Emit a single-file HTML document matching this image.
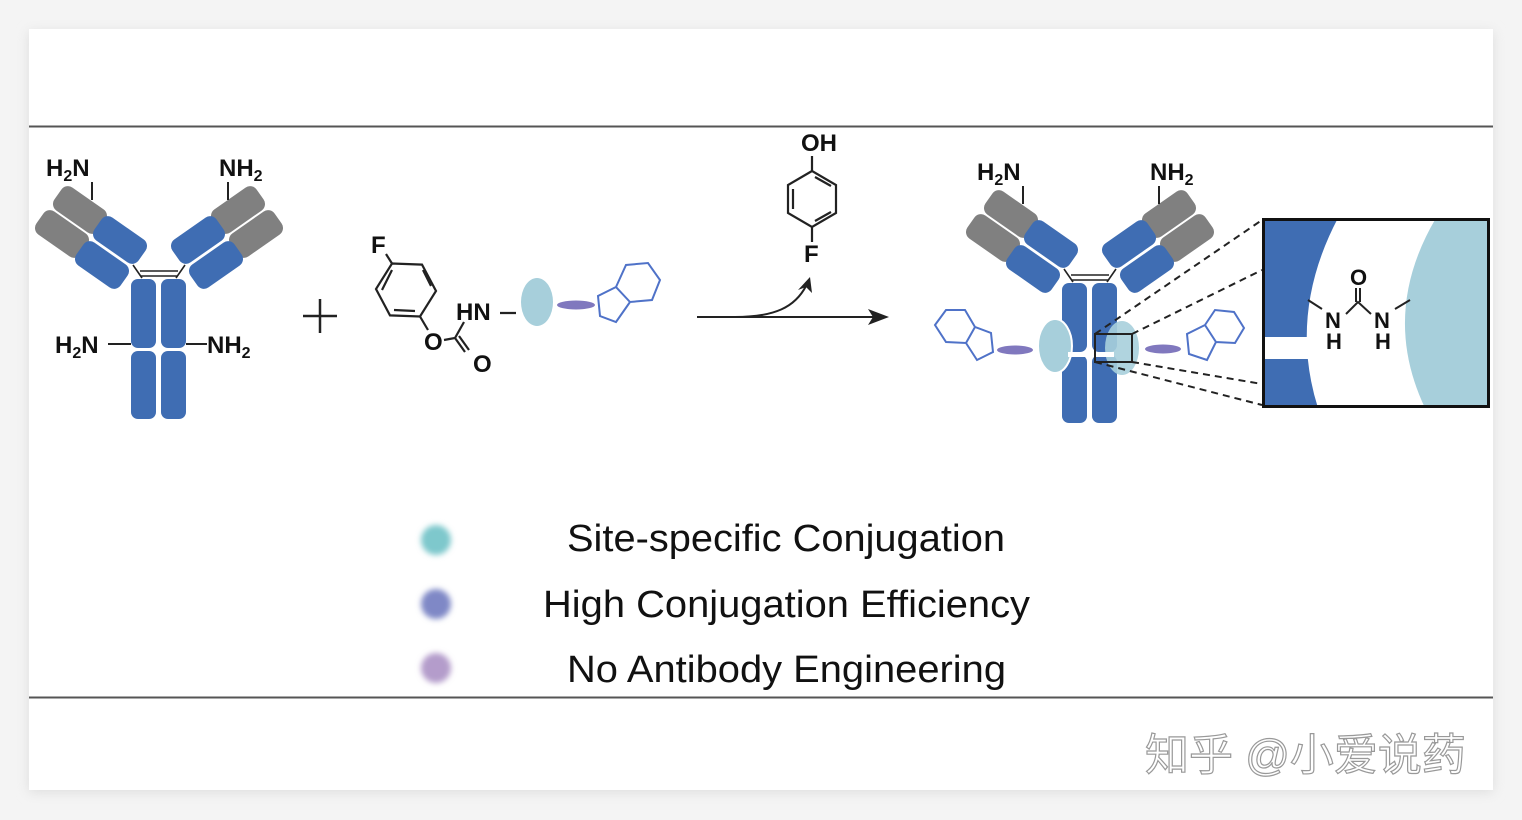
<!DOCTYPE html>
<html><head><meta charset="utf-8"><style>
html,body{margin:0;padding:0;background:#f4f4f4;}
body{width:1522px;height:820px;overflow:hidden;position:relative;font-family:"Liberation Sans",Arial,sans-serif;}
svg{position:absolute;left:0;top:0;}
</style></head><body>
<svg width="1522" height="820" viewBox="0 0 1522 820">
<defs>
<filter id="bl" x="-50%" y="-50%" width="200%" height="200%"><feGaussianBlur stdDeviation="3"/></filter>
<filter id="sh" x="-5%" y="-5%" width="110%" height="110%"><feGaussianBlur stdDeviation="6"/></filter>
<g id="ab">
  <rect x="131" y="279" width="25" height="69" rx="7" fill="#3f6db3"/>
  <rect x="161" y="279" width="25" height="69" rx="7" fill="#3f6db3"/>
  <rect x="131" y="351" width="25" height="68" rx="7" fill="#3f6db3"/>
  <rect x="161" y="351" width="25" height="68" rx="7" fill="#3f6db3"/>
  <path d="M140 271 L178 271 M140 276 L178 276 M133 265 L142 278 M185 265 L176 278" stroke="#222" stroke-width="1.6" fill="none"/>
  <g fill="#808080">
    <rect x="-27" y="-14" width="54" height="28" rx="8" transform="translate(80,210) rotate(35)"/>
    <rect x="-27" y="-14" width="54" height="28" rx="8" transform="translate(62,234) rotate(35)"/>
  </g>
  <g fill="#3f6db3">
    <rect x="-27" y="-14" width="54" height="28" rx="8" transform="translate(120,240) rotate(35)"/>
    <rect x="-27" y="-14" width="54" height="28" rx="8" transform="translate(102,265) rotate(35)"/>
  </g>
  <g fill="#808080">
    <rect x="-27" y="-14" width="54" height="28" rx="8" transform="translate(238,210) rotate(-35)"/>
    <rect x="-27" y="-14" width="54" height="28" rx="8" transform="translate(256,234) rotate(-35)"/>
  </g>
  <g fill="#3f6db3">
    <rect x="-27" y="-14" width="54" height="28" rx="8" transform="translate(198,240) rotate(-35)"/>
    <rect x="-27" y="-14" width="54" height="28" rx="8" transform="translate(216,265) rotate(-35)"/>
  </g>
  <path d="M92 182 L92 200 M228 182 L228 200" stroke="#222" stroke-width="2"/>
  <g font-weight="bold" font-size="24" fill="#111">
    <text x="46" y="176">H<tspan font-size="16" dy="5">2</tspan><tspan dy="-5">N</tspan></text>
    <text x="219" y="176">NH<tspan font-size="16" dy="5">2</tspan></text>
  </g>
</g>
</defs>
<rect x="29" y="32" width="1464" height="760" fill="#ddd" filter="url(#sh)"/>
<rect x="29" y="29" width="1464" height="761" fill="#fff"/>
<line x1="29" y1="126.5" x2="1493" y2="126.5" stroke="#555" stroke-width="2"/>
<line x1="29" y1="697.5" x2="1493" y2="697.5" stroke="#555" stroke-width="2"/>

<use href="#ab"/>
<line x1="108" y1="344" x2="131" y2="344" stroke="#222" stroke-width="2"/>
<line x1="186" y1="344" x2="207" y2="344" stroke="#222" stroke-width="2"/>
<g font-weight="bold" font-size="24" fill="#111">
  <text x="55" y="353">H<tspan font-size="16" dy="5">2</tspan><tspan dy="-5">N</tspan></text>
  <text x="207" y="353">NH<tspan font-size="16" dy="5">2</tspan></text>
</g>
<path d="M303 316 L337 316 M320 299 L320 333" stroke="#222" stroke-width="2.5"/>

<!-- reagent -->
<g stroke="#222" stroke-width="2.2" fill="none">
  <path d="M392 263.5 L422 264.6 L436 291 L420 316.5 L390 315.4 L376 289 Z"/>
  <path d="M423 270 L431 286 M415 311 L394 310 M382 290 L392 270"/>
  <path d="M386 254 L392 263.5"/>
  <path d="M420 316.5 L428 330 M444 340 L455 338 L464 322 M455 338 L465 352 M459 336 L469 350 M500 313 L516 313"/>
</g>
<g font-weight="bold" font-size="24" fill="#111">
  <text x="371" y="253">F</text>
  <text x="424" y="350">O</text>
  <text x="473" y="372">O</text>
  <text x="456" y="320">HN</text>
</g>
<ellipse cx="537" cy="302" rx="16" ry="24" fill="#a7cfdb"/>
<ellipse cx="576" cy="305" rx="19" ry="4.5" fill="#8078be"/>
<path d="M616 287 L626 265 L648 263 L660 280 L652 300 L630 302 Z M616 287 L598 296 L600 316 L616 322 L630 302" fill="none" stroke="#4f72c8" stroke-width="2"/>

<!-- arrow -->
<path d="M697 317 L875 317" stroke="#222" stroke-width="2"/>
<path d="M889 317 L868 309 L873 317 L868 325 Z" fill="#222"/>
<path d="M735 317 C775 317 795 307 806 286" stroke="#222" stroke-width="2" fill="none"/>
<path d="M810 277 L798 290 L806 287 L812 293 Z" fill="#222"/>
<g stroke="#222" stroke-width="2.2" fill="none">
  <path d="M812 156 L812 171 L836 185 L836 213 L812 227 L788 213 L788 185 L812 171 M812 227 L812 242"/>
  <path d="M815 177 L831 186 M831 212 L815 221 M793 189 L793 209"/>
</g>
<g font-weight="bold" font-size="24" fill="#111">
  <text x="801" y="151">OH</text>
  <text x="804" y="262">F</text>
</g>

<!-- right antibody -->
<use href="#ab" transform="translate(931,4)"/>
<ellipse cx="1055" cy="346" rx="17" ry="27" fill="#a7cfdb" stroke="#fff" stroke-width="2"/>
<ellipse cx="1122" cy="348" rx="17" ry="27" fill="#a7cfdb" opacity="0.9"/>
<rect x="1068" y="352" width="46" height="5" fill="#fff"/>
<ellipse cx="1015" cy="350" rx="18" ry="4.5" fill="#8078be"/>
<ellipse cx="1163" cy="349" rx="18" ry="4.5" fill="#8078be"/>
<path d="M935 325 L946 310 L965 310 L975 327 L966 343 L946 342 Z M966 343 L975 327 L991 333 L993 352 L977 360 Z" fill="none" stroke="#4f72c8" stroke-width="2"/>
<path d="M1205 325 L1215 310 L1234 312 L1244 328 L1235 343 L1216 342 Z M1216 342 L1205 325 L1187 334 L1189 354 L1207 360 Z" fill="none" stroke="#4f72c8" stroke-width="2"/>
<rect x="1095" y="334" width="37" height="28" fill="none" stroke="#222" stroke-width="2"/>
<g stroke="#222" stroke-width="2" stroke-dasharray="7,5">
  <path d="M1095 334 L1262 220 M1132 334 L1262 270 M1132 362 L1262 384 M1095 362 L1262 405"/>
</g>
<svg x="1262" y="218" width="228" height="190" viewBox="0 0 228 190">
  <rect width="228" height="190" fill="#fff"/>
  <path d="M0 0 L76 0 Q26 95 56 190 L0 190 Z" fill="#3f6db3"/>
  <rect x="0" y="119" width="60" height="22" fill="#fff"/>
  <path d="M228 0 L174 0 Q118 95 163 190 L228 190 Z" fill="#a7cfdb"/>
  <rect x="1.5" y="1.5" width="225" height="187" fill="none" stroke="#111" stroke-width="3"/>
  <g stroke="#222" stroke-width="2" fill="none">
    <path d="M46 82 L60 91 M84 96 L96 84 L109 96 M94 84 L94 70 M98 84 L98 70 M133 91 L148 82"/>
  </g>
  <g font-weight="bold" font-size="22" fill="#111">
    <text x="63" y="110">N</text><text x="64" y="131">H</text>
    <text x="88" y="67">O</text>
    <text x="112" y="110">N</text><text x="113" y="131">H</text>
  </g>
</svg>

<circle cx="436" cy="540" r="15" fill="#7ec8cc" filter="url(#bl)"/>
<circle cx="436" cy="604" r="15" fill="#7f88c6" filter="url(#bl)"/>
<circle cx="436" cy="668" r="15" fill="#b49ccb" filter="url(#bl)"/>
<g font-size="38" fill="#111">
  <text x="567" y="551" textLength="438" lengthAdjust="spacingAndGlyphs">Site-specific Conjugation</text>
  <text x="543" y="617" textLength="487" lengthAdjust="spacingAndGlyphs">High Conjugation Efficiency</text>
  <text x="567" y="682" textLength="439" lengthAdjust="spacingAndGlyphs">No Antibody Engineering</text>
</g>
<text x="1145" y="770" font-family="'Liberation Sans','Noto Sans CJK SC',sans-serif" font-size="44" fill="#fff" stroke="#999" stroke-width="1.2">知乎 @小爱说药</text>
</svg>
</body></html>
